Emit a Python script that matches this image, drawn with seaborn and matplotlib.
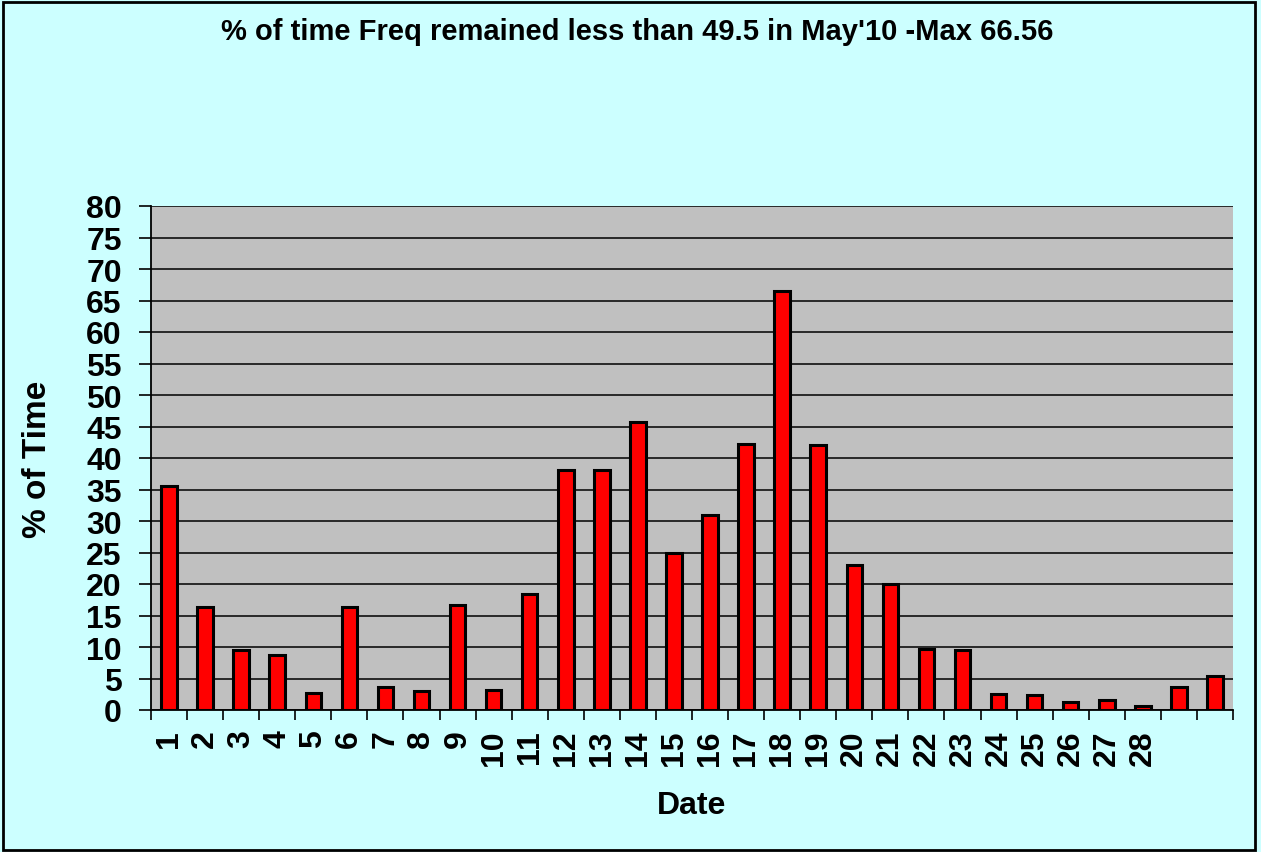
import numpy as np
import pandas as pd
import matplotlib
matplotlib.use("Agg")
import matplotlib.pyplot as plt
import seaborn as sns
from matplotlib.patches import Rectangle

# values (30 days, only 1-28 labelled)
days = list(range(1, 31))
pct_time = [35.5, 16.4, 9.5, 8.7, 2.7, 16.4, 3.6, 3.0, 16.7, 3.1,
            18.4, 38.1, 38.1, 45.7, 24.9, 30.9, 42.3, 66.56, 42.1, 23.0,
            20.0, 9.7, 9.6, 2.5, 2.4, 1.2, 1.6, 0.7, 3.7, 5.4]
tick_labels = [str(d) for d in range(1, 29)] + ["", ""]

df = pd.DataFrame({"Date": [str(d) for d in days], "Pct": pct_time})

sns.set_theme(style="white")
plt.rcParams['font.family'] = ['Liberation Sans', 'DejaVu Sans']
plt.rcParams['text.color'] = 'black'
plt.rcParams['axes.labelcolor'] = 'black'
plt.rcParams['xtick.color'] = 'black'
plt.rcParams['ytick.color'] = 'black'

bg = "#CCFFFF"
fig = plt.figure(figsize=(12.61, 8.53), dpi=100, facecolor=bg)
ax = fig.add_axes([151/1261, 1 - 711/853, (1233-151)/1261, (711-207)/853])
ax.set_facecolor("#C0C0C0")

sns.barplot(data=df, x="Date", y="Pct", color="#FF0000", saturation=1,
            width=0.43, edgecolor="black", linewidth=2.2, ax=ax, zorder=3)

ax.set_ylim(0, 80)
ax.set_xlim(-0.5, len(days) - 0.5)
ax.set_yticks(np.arange(0, 81, 5))
ax.yaxis.grid(True, color="black", linewidth=1.1)
ax.set_axisbelow(True)

# x ticks: labels in the middle, tick marks on category boundaries
ax.set_xticks(range(len(days)))
ax.set_xticklabels(tick_labels, rotation=90, fontsize=23, fontweight="bold")
ax.set_xticks(np.arange(-0.5, len(days)), minor=True)
ax.tick_params(axis="x", which="major", length=0, pad=14)
ax.tick_params(axis="x", which="minor", length=7, width=1.2, color="black",
               direction="out", bottom=True)
ax.tick_params(axis="y", length=9, width=1.2, color="black", direction="out",
               left=True, pad=12)
for lbl in ax.get_yticklabels():
    lbl.set_fontsize(23)
    lbl.set_fontweight("bold")

for s in ["top", "right"]:
    ax.spines[s].set_visible(False)
for s in ["left", "bottom"]:
    ax.spines[s].set_color("black")
    ax.spines[s].set_linewidth(1.3)

ax.set_xlabel("Date", fontsize=23, fontweight="bold", labelpad=18)
ax.set_ylabel("% of Time", fontsize=24, fontweight="bold", labelpad=24)

fig.text(0.5055, 1 - 32/853, "% of time Freq remained less than 49.5 in May'10 -Max 66.56",
         ha="center", va="center", fontsize=21, fontweight="bold")

fig.patches.append(Rectangle((0.002, 0.002), 0.993, 0.995, transform=fig.transFigure,
                             fill=False, edgecolor="black", linewidth=2))

fig.savefig("out.png", dpi=100, facecolor=bg)
